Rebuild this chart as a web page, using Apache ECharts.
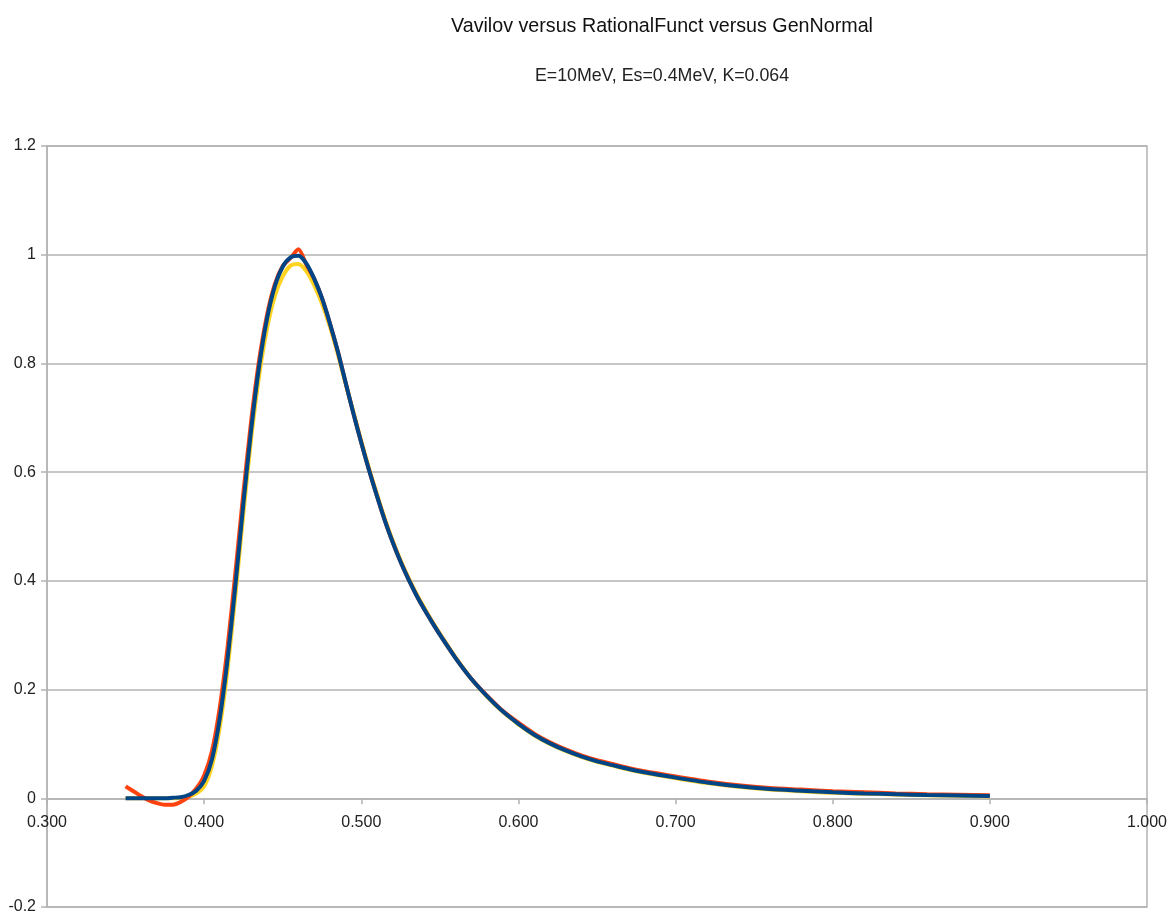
<!DOCTYPE html>
<html>
<head>
<meta charset="utf-8">
<title>Vavilov versus RationalFunct versus GenNormal</title>
<script src="https://cdn.jsdelivr.net/npm/echarts@6/dist/echarts.min.js"></script>
<style>
  html, body { margin: 0; padding: 0; background: #fff; }
  #chart { width: 1171px; height: 914px; }
</style>
</head>
<body>
<div id="chart"></div>
<script>
// energy loss (MeV) sample points
const energy = [
  0.350, 0.355, 0.360, 0.365, 0.370, 0.375, 0.380, 0.385, 0.390, 0.395,
  0.400, 0.405, 0.410, 0.415, 0.420, 0.425, 0.430, 0.435, 0.440, 0.445,
  0.450, 0.455, 0.460, 0.465, 0.470, 0.475, 0.480, 0.485, 0.490, 0.495,
  0.500, 0.505, 0.510, 0.515, 0.520, 0.525, 0.530, 0.535, 0.540, 0.545,
  0.550, 0.560, 0.570, 0.580, 0.590, 0.600, 0.610, 0.620, 0.630, 0.640,
  0.650, 0.660, 0.670, 0.680, 0.690, 0.700, 0.720, 0.740, 0.760, 0.780,
  0.800, 0.820, 0.840, 0.860, 0.880, 0.900
];

const vavilov = [
  0.000, 0.000, 0.000, 0.000, 0.000, 0.000, 0.001, 0.002, 0.006, 0.014,
  0.032, 0.072, 0.148, 0.258, 0.395, 0.543, 0.680, 0.795, 0.882, 0.942,
  0.978, 0.995, 0.998, 0.984, 0.956, 0.920, 0.874, 0.823, 0.765, 0.708,
  0.654, 0.603, 0.556, 0.511, 0.471, 0.435, 0.403, 0.374, 0.348, 0.324,
  0.301, 0.258, 0.220, 0.188, 0.160, 0.137, 0.117, 0.101, 0.088, 0.077,
  0.068, 0.061, 0.054, 0.048, 0.043, 0.038, 0.029, 0.022, 0.017, 0.014,
  0.011, 0.009, 0.0075, 0.006, 0.005, 0.004
];

const rationalFunct = [
  0.022, 0.013, 0.004, -0.004, -0.009, -0.012, -0.012, -0.007, 0.003, 0.018,
  0.042, 0.087, 0.168, 0.280, 0.418, 0.563, 0.696, 0.806, 0.889, 0.946,
  0.979, 0.994, 1.010, 0.982, 0.956, 0.920, 0.874, 0.823, 0.765, 0.708,
  0.654, 0.603, 0.556, 0.511, 0.471, 0.435, 0.403, 0.374, 0.348, 0.324,
  0.301, 0.258, 0.220, 0.189, 0.161, 0.139, 0.119, 0.103, 0.090, 0.079,
  0.070, 0.063, 0.056, 0.050, 0.045, 0.040, 0.031, 0.024, 0.019, 0.016,
  0.013, 0.011, 0.009, 0.0075, 0.0065, 0.0055
];

const genNormal = [
  0.000, 0.000, 0.000, 0.000, 0.000, 0.000, 0.000, 0.001, 0.003, 0.009,
  0.022, 0.060, 0.132, 0.240, 0.377, 0.525, 0.664, 0.778, 0.864, 0.924,
  0.960, 0.980, 0.983, 0.970, 0.944, 0.910, 0.868, 0.818, 0.763, 0.710,
  0.657, 0.606, 0.559, 0.514, 0.474, 0.438, 0.406, 0.377, 0.351, 0.326,
  0.303, 0.259, 0.220, 0.187, 0.159, 0.136, 0.116, 0.100, 0.087, 0.076,
  0.067, 0.060, 0.053, 0.047, 0.042, 0.037, 0.028, 0.021, 0.016, 0.013,
  0.010, 0.0085, 0.007, 0.0055, 0.0045, 0.0035
];

const pairs = (ys) => energy.map((x, i) => [x, ys[i]]);

const chart = echarts.init(document.getElementById('chart'));

const textColor = '#222';
const lineGrey = '#b3b3b3';
const gridTop = 146;
const gridBottom = 7;
const plotHeight = 914 - gridTop - gridBottom;

chart.setOption({
  backgroundColor: '#fff',
  animation: false,
  title: [
    {
      text: 'Vavilov versus RationalFunct versus GenNormal',
      left: 657,
      top: 12,
      textAlign: 'center',
      textStyle: { fontFamily: 'Liberation Sans', fontSize: 19.7, fontWeight: 'normal', color: '#111' }
    },
    {
      text: 'E=10MeV, Es=0.4MeV, K=0.064',
      left: 657,
      top: 62,
      textAlign: 'center',
      textStyle: { fontFamily: 'Liberation Sans', fontSize: 17.8, fontWeight: 'normal', color: '#222' }
    }
  ],
  grid: {
    left: 47,
    right: 24,
    top: gridTop,
    bottom: gridBottom,
    show: true,
    borderColor: lineGrey,
    borderWidth: 1.5,
    containLabel: false,
    outerBoundsMode: 'none'
  },
  xAxis: {
    type: 'value',
    min: 0.3,
    max: 1.0,
    interval: 0.1,
    // axis sits on y = 0, which is 0.2 / 1.4 of the plot height above the bottom
    offset: -plotHeight * 0.2 / 1.4,
    axisLine: { onZero: false, lineStyle: { color: lineGrey, width: 1.5 } },
    axisTick: { show: true, length: 6, lineStyle: { color: lineGrey, width: 1.5 } },
    axisLabel: {
      margin: 16,
      color: textColor,
      fontFamily: 'Liberation Sans',
      fontSize: 16,
      formatter: (v) => v.toFixed(3)
    },
    splitLine: { show: false }
  },
  yAxis: {
    type: 'value',
    min: -0.2,
    max: 1.2,
    interval: 0.2,
    axisLine: { show: true, onZero: false, lineStyle: { color: lineGrey, width: 1.5 } },
    axisTick: { show: true, length: 6, lineStyle: { color: lineGrey, width: 1.5 } },
    axisLabel: {
      margin: 11,
      color: textColor,
      fontFamily: 'Liberation Sans',
      fontSize: 16,
      formatter: (v) => String(+v.toFixed(1))
    },
    splitLine: { show: true, lineStyle: { color: lineGrey, width: 1.5 } }
  },
  series: [
    {
      name: 'GenNormal',
      type: 'line',
      data: pairs(genNormal),
      showSymbol: false,
      smooth: 0.25,
      lineStyle: { color: '#ffd320', width: 4 },
      itemStyle: { color: '#ffd320' },
      z: 2
    },
    {
      name: 'RationalFunct',
      type: 'line',
      data: pairs(rationalFunct),
      showSymbol: false,
      smooth: 0.25,
      lineStyle: { color: '#ff420e', width: 4 },
      itemStyle: { color: '#ff420e' },
      z: 3
    },
    {
      name: 'Vavilov',
      type: 'line',
      data: pairs(vavilov),
      showSymbol: false,
      smooth: 0.25,
      lineStyle: { color: '#004586', width: 4 },
      itemStyle: { color: '#004586' },
      z: 4
    }
  ]
});
</script>
</body>
</html>
